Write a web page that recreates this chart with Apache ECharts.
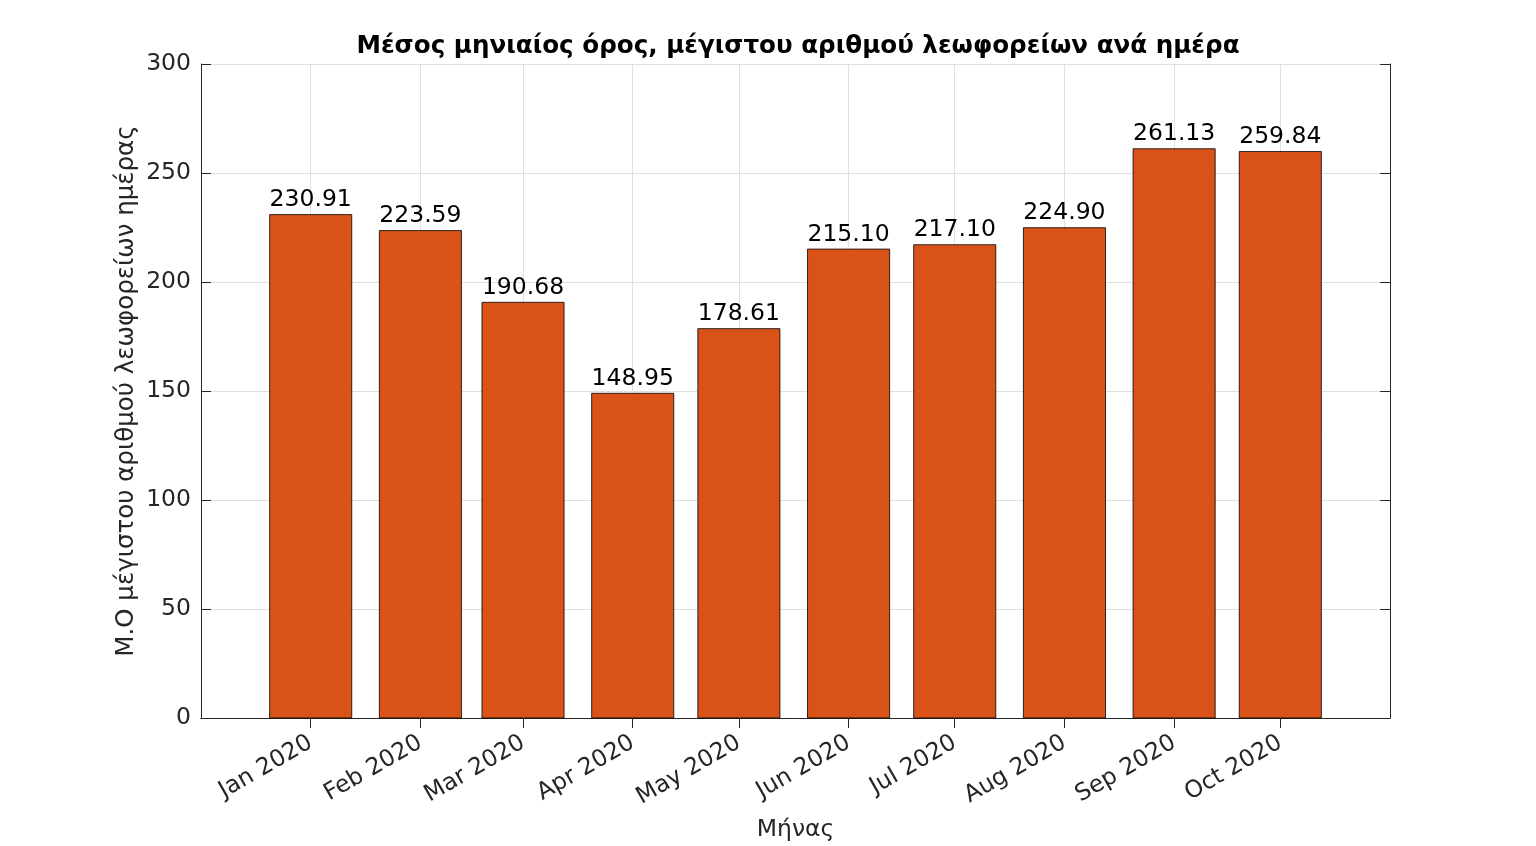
<!DOCTYPE html>
<html>
<head>
<meta charset="utf-8">
<script src="https://cdn.jsdelivr.net/npm/echarts@6/dist/echarts.min.js"></script>
<style>
html, body { margin: 0; padding: 0; background: #fff; }
#main { width: 1536px; height: 846px; }
</style>
</head>
<body>
<div id="main"></div>
<script>
var months = ['2020-01-01', '2020-02-01', '2020-03-01', '2020-04-01', '2020-05-01',
	'2020-06-01', '2020-07-01', '2020-08-01', '2020-09-01', '2020-10-01'];
var busMax = [230.91, 223.59, 190.68, 148.95, 178.61, 215.10, 217.10, 224.90, 261.13, 259.84];
var monthNames = ['Jan', 'Feb', 'Mar', 'Apr', 'May', 'Jun', 'Jul', 'Aug', 'Sep', 'Oct', 'Nov', 'Dec'];

var xMin = new Date(2019, 11, 1).getTime();
var xMax = new Date(2020, 10, 1).getTime();
var day = 86400000;

var monthTimes = months.map(function (m) {
	var p = m.split('-');
	return new Date(+p[0], +p[1] - 1, +p[2]).getTime();
});

function monthLabel(val) {
	var d = new Date(val);
	return monthNames[d.getMonth()] + ' ' + d.getFullYear();
}

var seriesData = monthTimes.map(function (t, i) {
	return [t, busMax[i]];
});

var axisColor = '#262626';
var font = 'DejaVu Sans';

// bars drawn as custom rects so the date axis keeps its exact extent
function renderBar(params, api) {
	var x = api.value(0), v = api.value(1);
	var base = api.coord([x, 0]);
	var top = api.coord([x, v]);
	var w = api.size([0.8 * 29 * day, 0])[0];
	return {
		type: 'rect',
		shape: { x: base[0] - w / 2, y: top[1], width: w, height: base[1] - top[1] },
		style: { fill: '#D95319', stroke: '#000', lineWidth: 0.8 },
		textContent: {
			style: {
				text: v.toFixed(2),
				fontFamily: font, fontSize: 23.5, fill: '#000'
			}
		},
		textConfig: { position: 'top', distance: 2 }
	};
}

var myChart = echarts.init(document.getElementById('main'));
var option = {
	animation: false,
	title: {
		text: 'Μέσος μηνιαίος όρος, μέγιστου αριθμού λεωφορείων ανά ημέρα',
		left: 793,
		textAlign: 'center',
		top: 29,
		textStyle: { fontFamily: font, fontSize: 24.6, fontWeight: 'bold', color: '#000' }
	},
	grid: { left: 201, right: 146, top: 64, bottom: 128, outerBoundsMode: 'none', containLabel: false },
	xAxis: [{
		type: 'value',
		min: xMin,
		max: xMax,
		name: 'Μήνας',
		nameLocation: 'middle',
		nameGap: 100,
		nameMoveOverlap: false,
		nameTextStyle: { fontFamily: font, fontSize: 23.5, color: axisColor },
		axisLine: { lineStyle: { color: axisColor, width: 1 } },
		axisTick: { inside: true, length: 10, customValues: monthTimes, lineStyle: { color: axisColor } },
		axisLabel: {
			rotate: 30, margin: 23, formatter: monthLabel, customValues: monthTimes,
			fontFamily: font, fontSize: 23.5, color: axisColor
		},
		splitLine: { show: true, lineStyle: { color: '#dfdfdf', width: 1 } }
	}, {
		type: 'value',
		position: 'top',
		min: xMin,
		max: xMax,
		axisLine: { show: true, lineStyle: { color: axisColor, width: 1 } },
		axisTick: { inside: true, length: 10, customValues: monthTimes, lineStyle: { color: axisColor } },
		axisLabel: { show: false },
		splitLine: { show: false }
	}],
	yAxis: [{
		type: 'value',
		min: 0,
		max: 300,
		interval: 50,
		name: 'Μ.Ο μέγιστου αριθμού λεωφορείων ημέρας',
		nameLocation: 'middle',
		nameGap: 62,
		nameMoveOverlap: false,
		nameTextStyle: { fontFamily: font, fontSize: 24.5, color: axisColor },
		axisLine: { show: true, lineStyle: { color: axisColor, width: 1 } },
		axisTick: { show: true, inside: true, length: 10, lineStyle: { color: axisColor } },
		axisLabel: { fontFamily: font, fontSize: 23.5, color: axisColor, margin: 10 },
		splitLine: { show: true, lineStyle: { color: '#dfdfdf', width: 1 } }
	}, {
		type: 'value',
		position: 'right',
		min: 0,
		max: 300,
		interval: 50,
		axisLine: { show: true, lineStyle: { color: axisColor, width: 1 } },
		axisTick: { show: true, inside: true, length: 10, lineStyle: { color: axisColor } },
		axisLabel: { show: false },
		splitLine: { show: false }
	}],
	series: [{
		type: 'custom',
		renderItem: renderBar,
		encode: { x: 0, y: 1 },
		data: seriesData
	}]
};
myChart.setOption(option);
</script>
</body>
</html>
